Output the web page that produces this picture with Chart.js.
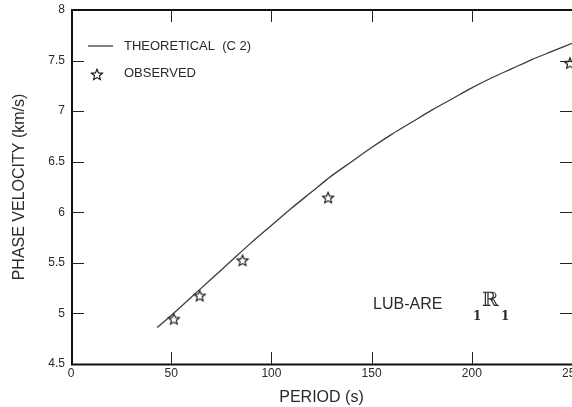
<!DOCTYPE html>
<html>
<head>
<meta charset="utf-8">
<script src="https://cdn.jsdelivr.net/npm/chart.js@4"></script>
<style>
html,body{margin:0;padding:0;background:#fff;overflow:hidden;}
#wrap{width:572px;height:407px;position:relative;}
</style>
</head>
<body>
<div id="wrap"><canvas id="c" width="572" height="407"></canvas></div>
<script>
// ---- data ----
const theoryPeriods = [43, 50, 60, 70, 80, 90, 100, 110, 120, 130, 140, 150, 160, 170, 180, 190, 200, 210, 220, 230, 240, 250];
const theoryVelocity = [4.86, 4.98, 5.16, 5.34, 5.52, 5.70, 5.87, 6.04, 6.20, 6.36, 6.50, 6.64, 6.77, 6.89, 7.01, 7.12, 7.23, 7.33, 7.42, 7.51, 7.59, 7.67];
const obsPeriods = [51.3, 64.2, 85.6, 128.3, 249];
const obsVelocity = [4.94, 5.17, 5.52, 6.14, 7.47];
const xTickValues = [0, 50, 100, 150, 200, 250];
const xTickLabels = ['0', '50', '100', '150', '200', '250'];
const yTickValues = [4.5, 5, 5.5, 6, 6.5, 7, 7.5, 8];
const yTickLabels = ['4.5', '5', '5.5', '6', '6.5', '7', '7.5', '8'];
const seriesNames = ['THEORETICAL  (C 2)', 'OBSERVED'];
const regionLabel = 'LUB-ARE';
const modeLabel = ['1', 'ℝ', '1'];

const FONT = "'Liberation Sans', Arial, sans-serif";
const INK = '#2a2a2a';

function makeStar(r) {
  const s = Math.ceil(r * 2 + 4);
  const cv = document.createElement('canvas');
  cv.width = s; cv.height = s;
  const g = cv.getContext('2d');
  g.strokeStyle = '#111';
  g.lineWidth = 1.1;
  g.beginPath();
  for (let i = 0; i < 10; i++) {
    const rad = (i % 2 === 0) ? r : r * 0.45;
    const a = -Math.PI / 2 + i * Math.PI / 5;
    const x = s / 2 + rad * Math.cos(a), y = s / 2 + rad * Math.sin(a);
    if (i === 0) g.moveTo(x, y); else g.lineTo(x, y);
  }
  g.closePath();
  g.stroke();
  return cv;
}
const starImg = makeStar(5.8);

const framePlugin = {
  id: 'frame',
  afterDraw(chart) {
    const ctx = chart.ctx;
    const a = chart.chartArea;
    const xs = chart.scales.x, ys = chart.scales.y;
    ctx.save();
    // frame
    ctx.strokeStyle = '#111';
    ctx.lineWidth = 2;
    ctx.beginPath();
    ctx.moveTo(a.left + 1, a.top);
    ctx.lineTo(a.left + 1, a.bottom);
    ctx.moveTo(a.left, a.bottom + 0.5);
    ctx.lineTo(a.right, a.bottom + 0.5);
    ctx.moveTo(a.left, a.top);
    ctx.lineTo(a.right, a.top);
    ctx.stroke();
    // inward ticks
    ctx.lineWidth = 1;
    ctx.strokeStyle = '#222';
    ctx.beginPath();
    xTickValues.slice(1, -1).forEach(v => {
      const px = Math.round(xs.getPixelForValue(v)) + 0.5;
      ctx.moveTo(px, a.bottom); ctx.lineTo(px, a.bottom - 12);
      ctx.moveTo(px, a.top); ctx.lineTo(px, a.top + 12);
    });
    yTickValues.slice(1, -1).forEach(v => {
      const py = Math.round(ys.getPixelForValue(v)) + 0.5;
      ctx.moveTo(a.left + 1, py); ctx.lineTo(a.left + 13, py);
      ctx.moveTo(a.right, py); ctx.lineTo(a.right - 12, py);
    });
    ctx.stroke();
    // legend
    const ds = chart.data.datasets;
    ctx.font = '13px ' + FONT;
    ctx.fillStyle = INK;
    ctx.textBaseline = 'middle';
    ctx.textAlign = 'left';
    ctx.strokeStyle = ds[0].borderColor;
    ctx.lineWidth = 1.3;
    ctx.beginPath();
    ctx.moveTo(88, 46); ctx.lineTo(113, 46);
    ctx.stroke();
    ctx.fillText(ds[0].label, 124, 46);
    ctx.drawImage(starImg, 97 - starImg.width / 2, 75 - starImg.height / 2);
    ctx.fillText(ds[1].label, 124, 73);
    // region annotation
    ctx.font = '16px ' + FONT;
    ctx.fillText(regionLabel, 373, 305);
    ctx.font = "20px 'DejaVu Serif', serif";
    ctx.fillText(modeLabel[1], 482, 301);
    ctx.font = "bold 12px 'DejaVu Serif', serif";
    ctx.fillText(modeLabel[0], 473, 317);
    ctx.fillText(modeLabel[2], 501, 317);
    ctx.restore();
  }
};

new Chart(document.getElementById('c'), {
  type: 'scatter',
  data: {
    datasets: [
      {
        label: seriesNames[0],
        data: theoryPeriods.map((p, i) => ({x: p, y: theoryVelocity[i]})),
        showLine: true,
        borderColor: '#3c3c3c',
        borderWidth: 1.3,
        pointRadius: 0,
        pointHoverRadius: 0,
        tension: 0.3,
        fill: false
      },
      {
        label: seriesNames[1],
        data: obsPeriods.map((p, i) => ({x: p, y: obsVelocity[i]})),
        showLine: false,
        pointStyle: starImg,
        pointRadius: 6,
        pointHoverRadius: 6,
        clip: false
      }
    ]
  },
  options: {
    responsive: false,
    animation: false,
    devicePixelRatio: 1,
    layout: {autoPadding: false, padding: {top: 10, right: 0, left: 0, bottom: 0}},
    plugins: {legend: {display: false}, tooltip: {enabled: false}},
    scales: {
      x: {
        type: 'linear', min: 0, max: 250,
        afterBuildTicks: s => { s.ticks = xTickValues.map(v => ({value: v})); },
        afterFit: s => { s.height = 43; s.paddingLeft = 0; s.paddingRight = 0; },
        grid: {display: false, drawTicks: false},
        border: {display: false},
        ticks: {
          padding: 2, color: INK, font: {family: FONT, size: 12},
          maxRotation: 0, autoSkip: false,
          callback: (v, i) => xTickLabels[i]
        },
        title: {display: true, text: 'PERIOD (s)', color: INK, font: {family: FONT, size: 16}, padding: {top: 0, bottom: 0}}
      },
      y: {
        type: 'linear', min: 4.5, max: 8,
        afterBuildTicks: s => { s.ticks = yTickValues.map(v => ({value: v})); },
        afterFit: s => { s.width = 71; s.paddingTop = 0; s.paddingBottom = 0; },
        grid: {display: false, drawTicks: false},
        border: {display: false},
        ticks: {
          padding: 6, color: INK, font: {family: FONT, size: 12},
          autoSkip: false,
          callback: (v, i) => yTickLabels[i]
        },
        title: {display: true, text: 'PHASE VELOCITY (km/s)', color: INK, font: {family: FONT, size: 16}, padding: {top: 10, bottom: 0}}
      }
    }
  },
  plugins: [framePlugin]
});
</script>
</body>
</html>
